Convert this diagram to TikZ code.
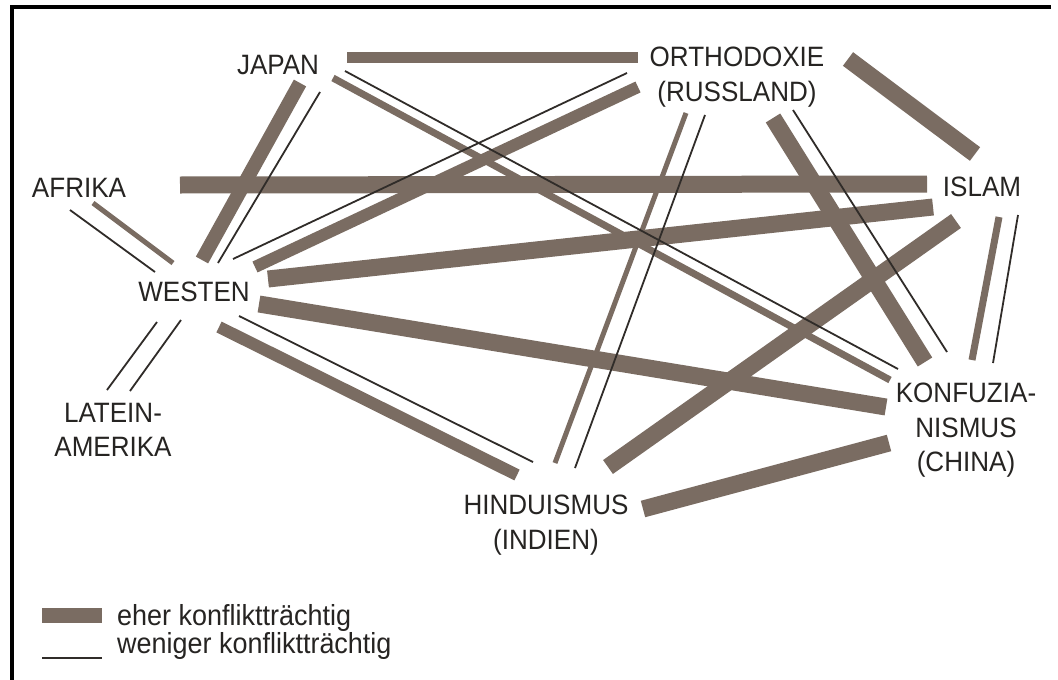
\documentclass[tikz,border=0pt]{standalone}
\usepackage{fontspec}
\setmainfont{Liberation Sans}[FakeStretch=0.93]
\definecolor{barcol}{RGB}{122,108,98}
\definecolor{inkcol}{RGB}{38,36,34}
\definecolor{wlinecol}{RGB}{48,44,41}
\begin{document}
\begin{tikzpicture}[x=1pt,y=-1pt,
  lbl/.style={inner sep=0pt, anchor=north, align=center, text=inkcol,
    font=\fontsize{28}{34.5}\selectfont},
  legtxt/.style={inner sep=0pt, anchor=base west, text=inkcol,
    font=\fontsize{29}{34}\selectfont},
  strongbar/.style={draw=barcol, line width=#1},
  strongbar/.default=17pt,
  medbar/.style={draw=barcol, line width=#1},
  medbar/.default=6pt,
  weakline/.style={draw=wlinecol, line width=1.8pt},
  frameline/.style={draw=black, line width=4pt}]
\fill[white] (0,0) rectangle (1058,680);
\useasboundingbox (0,0) rectangle (1058,680);
% frame
\coordinate (fr-tl) at (12,7);
\coordinate (fr-tr) at (1051,7);
\coordinate (fr-bl) at (12,680);
\draw[frameline] (fr-tr) -- (fr-tl) -- (fr-bl);

% labels
\node[lbl] (japan) at (278,55) {JAPAN};
\node[lbl] (orth) at (737,47) {ORTHODOXIE\\(RUSSLAND)};
\node[lbl] (afrika) at (79,178) {AFRIKA};
\node[lbl] (islam) at (982,177) {ISLAM};
\node[lbl] (westen) at (194,282) {WESTEN};
\node[lbl] (latein) at (113,403) {LATEIN-\\AMERIKA};
\node[lbl] (konf) at (966,383) {KONFUZIA-\\NISMUS\\(CHINA)};
\node[lbl] (hindu) at (546,495) {HINDUISMUS\\(INDIEN)};

% connector end points
\coordinate (jo-a) at (347,57);   \coordinate (jo-b) at (638,57);
\coordinate (jw-a) at (300,83);   \coordinate (jw-b) at (202,260);
\coordinate (jw2-a) at (320,92);  \coordinate (jw2-b) at (218,263);
\coordinate (jk-a) at (333,78);   \coordinate (jk-b) at (890,380);
\coordinate (jk2-a) at (345,71);  \coordinate (jk2-b) at (898,369);
\coordinate (ai-a) at (180,185);  \coordinate (ai-b) at (927,184);
\coordinate (ow-a) at (638,87);   \coordinate (ow-b) at (255,267);
\coordinate (ow2-a) at (627,73);  \coordinate (ow2-b) at (233,259);
\coordinate (wi-a) at (268,279);  \coordinate (wi-b) at (933,207);
\coordinate (oi-a) at (848,59);   \coordinate (oi-b) at (975,154);
\coordinate (oh-a) at (686,113);  \coordinate (oh-b) at (555,463);
\coordinate (oh2-a) at (705,115); \coordinate (oh2-b) at (575,468);
\coordinate (ok-a) at (773,118);  \coordinate (ok-b) at (925,362);
\coordinate (ok2-a) at (793,110); \coordinate (ok2-b) at (947,352);
\coordinate (ik-a) at (999,217);  \coordinate (ik-b) at (972,360);
\coordinate (ik2-a) at (1018,215);\coordinate (ik2-b) at (993,363);
\coordinate (ih-a) at (956,221);  \coordinate (ih-b) at (608,467);
\coordinate (wk-a) at (259,304);  \coordinate (wk-b) at (886,407);
\coordinate (hk-a) at (643,509);  \coordinate (hk-b) at (889,443);
\coordinate (wh-a) at (219,327);  \coordinate (wh-b) at (517,475);
\coordinate (wh2-a) at (239,316); \coordinate (wh2-b) at (533,462);
\coordinate (wl-a) at (157,322);  \coordinate (wl-b) at (107,390);
\coordinate (wl2-a) at (181,320); \coordinate (wl2-b) at (130,391);
\coordinate (aw-a) at (70,210);   \coordinate (aw-b) at (155,272);
\coordinate (aw2-a) at (93,203);  \coordinate (aw2-b) at (173,263);

% strong bars
\draw[strongbar=11pt] (jo-a) -- (jo-b);
\draw[strongbar=14pt] (jw-a) -- (jw-b);
\draw[strongbar] (ai-a) -- (ai-b);
\draw[strongbar=12pt] (ow-a) -- (ow-b);
\draw[strongbar] (wi-a) -- (wi-b);
\draw[strongbar] (oi-a) -- (oi-b);
\draw[strongbar] (ok-a) -- (ok-b);
\draw[strongbar] (wk-a) -- (wk-b);
\draw[strongbar] (ih-a) -- (ih-b);
\draw[strongbar] (hk-a) -- (hk-b);
\draw[strongbar=12pt] (wh-a) -- (wh-b);
% medium bars
\draw[medbar=7pt] (jk-a) -- (jk-b);
\draw[medbar=5pt] (oh-a) -- (oh-b);
\draw[medbar=7pt] (ik-a) -- (ik-b);
\draw[medbar=5pt] (aw2-a) -- (aw2-b);
% thin lines
\draw[weakline] (jw2-a) -- (jw2-b);
\draw[weakline] (jk2-a) -- (jk2-b);
\draw[weakline] (ow2-a) -- (ow2-b);
\draw[weakline] (oh2-a) -- (oh2-b);
\draw[weakline] (ok2-a) -- (ok2-b);
\draw[weakline] (ik2-a) -- (ik2-b);
\draw[weakline] (wh2-a) -- (wh2-b);
\draw[weakline] (wl-a) -- (wl-b);
\draw[weakline] (wl2-a) -- (wl2-b);
\draw[weakline] (aw-a) -- (aw-b);

% legend
\coordinate (lg1-a) at (42,615); \coordinate (lg1-b) at (102,615);
\coordinate (lg2-a) at (42,658); \coordinate (lg2-b) at (102,658);
\draw[strongbar=15pt] (lg1-a) -- (lg1-b);
\draw[draw=wlinecol, line width=2pt] (lg2-a) -- (lg2-b);
\node[legtxt] (leg1) at (117,625) {eher konfliktträchtig};
\node[legtxt] (leg2) at (117,653) {weniger konfliktträchtig};
\end{tikzpicture}
\end{document}
